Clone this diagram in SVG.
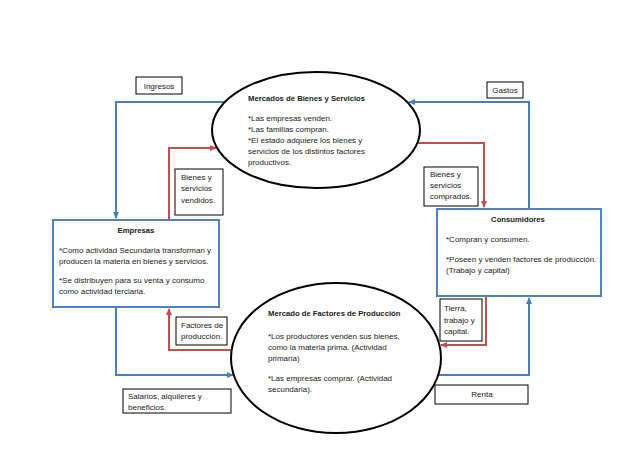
<svg xmlns="http://www.w3.org/2000/svg" width="638" height="452" viewBox="0 0 638 452">
<style>
text{font-family:"Liberation Sans",Arial,sans-serif;font-size:8px;fill:#1a1a1a}
.b{font-weight:bold;font-size:7.7px}
.m{text-anchor:middle}
.ell{fill:#fff;stroke:#000;stroke-width:2}
.nb{fill:#fff;stroke:#4F81BD;stroke-width:2}
.lb{fill:#fff;stroke:#000;stroke-width:1}
.cb{fill:none;stroke:#4A7EBB;stroke-width:2}
.cr{fill:none;stroke:#C0504D;stroke-width:2}
</style>
<defs>
<marker id="ab" markerWidth="7" markerHeight="6" refX="6" refY="3" orient="auto" markerUnits="userSpaceOnUse"><path d="M0,0 L7,3 L0,6 Z" fill="#4A7EBB"/></marker>
<marker id="ar" markerWidth="7" markerHeight="6" refX="6" refY="3" orient="auto" markerUnits="userSpaceOnUse"><path d="M0,0 L7,3 L0,6 Z" fill="#C0504D"/></marker>
</defs>
<g id="connectors">
<path class="cb" d="M225,102 H116 V218" marker-end="url(#ab)"/>
<path class="cb" d="M529,209 V102 H409" marker-end="url(#ab)"/>
<path class="cr" d="M169,219 V148 H216" marker-end="url(#ar)"/>
<path class="cr" d="M417,143 H484 V207" marker-end="url(#ar)"/>
<path class="cb" d="M116,308 V375 H233" marker-end="url(#ab)"/>
<path class="cr" d="M232,350 H169 V309" marker-end="url(#ar)"/>
<path class="cr" d="M486,297 V345 H441" marker-end="url(#ar)"/>
<path class="cb" d="M437,375 H529 V298" marker-end="url(#ab)"/>
</g>
<g id="mercado-bienes">
<ellipse class="ell" cx="316" cy="130" rx="104" ry="58"/>
<text class="b" x="248" y="101">Mercados de Bienes y Servicios</text>
<text x="248" y="121">*Las empresas venden.</text>
<text x="248" y="132">*Las familias compran.</text>
<text x="248" y="143">*El estado adquiere los bienes y</text>
<text x="248" y="154">servicios de los distintos factores</text>
<text x="248" y="165">productivos.</text>
</g>
<g id="mercado-factores">
<ellipse class="ell" cx="336" cy="358" rx="105" ry="75"/>
<text class="b" x="268" y="316">Mercado de Factores de Producción</text>
<text x="268" y="339">*Los productores  venden sus bienes,</text>
<text x="268" y="350">como la materia prima. (Actividad</text>
<text x="268" y="361">primaria)</text>
<text x="268" y="381">*Las empresas comprar. (Actividad</text>
<text x="268" y="392">secundaria).</text>
</g>
<g id="empresas">
<rect class="nb" x="53" y="220" width="166" height="87"/>
<text class="b m" x="136" y="233">Empresas</text>
<text x="59" y="253">*Como actividad Secundaria transforman y</text>
<text x="59" y="264">producen la materia en bienes y servicios.</text>
<text x="59" y="283">*Se distribuyen para su venta y consumo</text>
<text x="59" y="294">como actividad terciaria.</text>
</g>
<g id="consumidores">
<rect class="nb" x="437" y="209" width="164" height="87"/>
<text class="b m" x="518" y="222">Consumidores</text>
<text x="446" y="242">*Compran y consumen.</text>
<text x="446" y="262">*Poseen y venden factores de producción.</text>
<text x="446" y="273">(Trabajo y capital)</text>
</g>
<g id="ingresos">
<rect class="lb" x="136" y="77" width="46" height="17"/>
<text class="m" x="159" y="88.5">Ingresos</text>
</g>
<g id="gastos">
<rect class="lb" x="487" y="82" width="36" height="16"/>
<text class="m" x="505" y="93">Gastos</text>
</g>
<g id="bienes-vendidos">
<rect class="lb" x="175" y="169" width="48" height="46"/>
<text x="181" y="180">Bienes y</text>
<text x="181" y="191">servicios</text>
<text x="181" y="203">vendidos.</text>
</g>
<g id="bienes-comprados">
<rect class="lb" x="424" y="167" width="54" height="39"/>
<text x="430" y="177">Bienes y</text>
<text x="430" y="188">servicios</text>
<text x="430" y="199">comprados.</text>
</g>
<g id="factores">
<rect class="lb" x="176" y="317" width="51" height="28"/>
<text x="181" y="328">Factores de</text>
<text x="181" y="339">producción.</text>
</g>
<g id="tierra">
<rect class="lb" x="440" y="299" width="42" height="42"/>
<text x="444" y="311">Tierra,</text>
<text x="444" y="323">trabajo y</text>
<text x="444" y="334">capital.</text>
</g>
<g id="salarios">
<rect class="lb" x="123" y="389" width="108" height="24"/>
<text x="128" y="399">Salarios, alquileres y</text>
<text x="128" y="410">beneficios.</text>
</g>
<g id="renta">
<rect class="lb" x="435" y="385" width="93" height="19"/>
<text class="m" x="482" y="397">Renta</text>
</g>
</svg>
